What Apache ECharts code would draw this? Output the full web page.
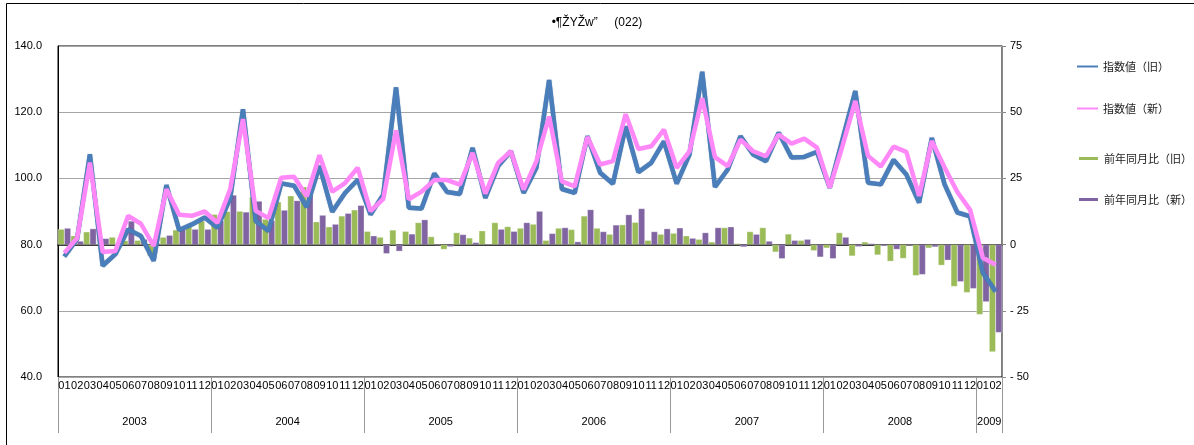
<!DOCTYPE html>
<html>
<head>
<meta charset="utf-8">
<title>指数値と前年同月比</title>
<script src="https://cdn.jsdelivr.net/npm/echarts@6/dist/echarts.min.js"></script>
<style>
  html, body { margin: 0; padding: 0; background: #fff; }
  #chart { width: 1194px; height: 445px; }
</style>
</head>
<body>
<div id="chart"></div>
<script>
// 軸ラベル
const monthNames = ['01', '02', '03', '04', '05', '06', '07', '08', '09', '10', '11', '12']
const years = ['2003', '2004', '2005', '2006', '2007', '2008', '2009']
const monthsPerYear = [12, 12, 12, 12, 12, 12, 2]

// 指数値（左軸）
const indexOld = [
  76.4, 81.7, 107.3, 73.6, 77.1, 84.6, 82.6, 75.1, 98.0, 84.4, 86.1, 88.2,
  85.1, 94.0, 120.9, 87.1, 84.1, 98.5, 97.8, 91.3, 103.8, 89.9, 95.6, 99.6,
  89.1, 95.1, 127.5, 91.1, 90.9, 101.5, 95.9, 95.3, 109.2, 94.1, 103.7, 108.2,
  95.6, 103.2, 129.7, 96.8, 95.6, 112.7, 101.7, 98.4, 115.7, 101.9, 104.7, 111.2,
  98.4, 107.2, 132.2, 97.4, 102.7, 112.7, 107.2, 105.2, 113.8, 106.3, 106.5, 108.0,
  97.2, 111.8, 126.4, 98.7, 98.2, 105.6, 101.2, 92.7, 112.2, 98.2, 89.7, 88.5,
  71.5, 65.8
]
const indexNew = [
  77.5, 82.0, 104.8, 77.8, 78.1, 88.7, 86.3, 79.6, 96.7, 89.0, 88.7, 90.0,
  86.6, 96.8, 117.9, 90.2, 88.0, 100.2, 100.5, 94.6, 107.0, 96.0, 98.6, 103.2,
  90.1, 93.8, 114.5, 93.7, 96.0, 99.5, 99.5, 98.1, 107.7, 95.4, 104.7, 108.2,
  96.6, 105.2, 118.7, 99.1, 97.6, 112.5, 104.2, 105.2, 119.4, 108.9, 109.7, 114.7,
  103.2, 108.2, 124.2, 106.4, 103.7, 111.7, 108.2, 106.7, 113.2, 110.5, 112.0, 109.3,
  97.2, 109.8, 123.4, 106.8, 103.6, 109.6, 108.0, 94.7, 111.3, 103.3, 95.9, 90.5,
  76.0, 73.9
]

// 前年同月比（右軸）
const yoyOld = [
  5.8, 3.3, 4.8, 0.3, 2.8, 1.5, 1.6, -4.3, 2.8, 5.5, 6.8, 8.9,
  11.4, 12.5, 12.6, 17.9, 9.6, 16.1, 18.4, 21.8, 8.6, 6.7, 10.8, 13.1,
  5.0, 2.8, 5.5, 5.0, 8.3, 3.0, -1.8, 4.5, 2.5, 5.2, 8.3, 6.8,
  6.2, 7.7, 1.6, 6.2, 5.7, 10.8, 6.2, 3.9, 7.5, 8.4, 1.6, 3.9,
  4.3, 3.3, 2.0, 1.0, 6.4, 0.4, 4.9, 6.4, -2.8, 4.0, 1.6, -2.3,
  -1.3, 4.5, -4.3, 1.0, -3.9, -6.3, -5.2, -11.7, -1.3, -7.8, -15.8, -18.1,
  -26.4, -40.5
]
const yoyNew = [
  6.2, 1.3, 6.0, 2.3, 0.3, 8.9, 2.0, 0.5, 3.5, 5.8, 5.8, 5.8,
  9.0, 18.7, 12.3, 16.4, 9.0, 13.0, 16.6, 18.6, 11.1, 7.7, 11.8, 14.8,
  3.3, -3.4, -2.5, 4.0, 9.4, -0.1, -0.8, 3.8, 0.8, 0.1, 5.8, 5.0,
  8.3, 12.6, 4.2, 6.4, 1.1, 13.2, 4.9, 7.4, 11.3, 13.6, 4.9, 6.0,
  6.3, 2.4, 4.5, 6.4, 6.7, -0.9, 3.9, 1.3, -5.3, 1.6, 2.0, -4.7,
  -5.3, 2.8, -0.8, 0.4, -0.5, -1.8, -0.3, -11.3, -0.9, -5.9, -14.0, -16.6,
  -21.6, -33.2
]

// カテゴリ（年/月）と年区切り
const categories = years.flatMap((y, k) => monthNames.slice(0, monthsPerYear[k]).map(m => y + '/' + m))
const yearEdges = [0]
monthsPerYear.forEach(n => yearEdges.push(yearEdges[yearEdges.length - 1] + n))
const yearMids = years.map((y, k) => (yearEdges[k] + yearEdges[k + 1]) / 2)

const numFont = 'Liberation Sans, Arial, sans-serif'
const jpFont = 'Noto Sans CJK JP, sans-serif'

const chart = echarts.init(document.getElementById('chart'))

const option = {
  animation: false,
  backgroundColor: '#fff',
  title: {
    text: '•¶ŽYŽw”     (022)',
    left: 'center',
    top: 12,
    textStyle: { fontFamily: numFont, fontSize: 12, fontWeight: 'normal', color: '#000' },
  },
  graphic: [
    {
      type: 'rect',
      shape: { x: 6.5, y: 3.5, width: 1300, height: 500 },
      style: { fill: 'none', stroke: '#000', lineWidth: 1 },
      silent: true,
    },
  ],
  legend: [
    {
      data: ['指数値（旧）', '指数値（新）'],
      orient: 'vertical',
      left: 1077,
      top: 61,
      padding: 0,
      itemGap: 31,
      itemWidth: 21,
      itemHeight: 2,
      icon: 'rect',
      textStyle: { fontFamily: jpFont, fontSize: 11, color: '#222' },
    },
    {
      data: ['前年同月比（旧）', '前年同月比（新）'],
      orient: 'vertical',
      left: 1077,
      top: 153,
      padding: 0,
      itemGap: 30,
      itemWidth: 21,
      itemHeight: 5,
      icon: 'rect',
      textStyle: { fontFamily: jpFont, fontSize: 11, color: '#222' },
    },
  ],
  grid: {
    left: 58,
    right: 192,
    top: 46,
    bottom: 68,
    show: true,
    borderColor: '#000',
    borderWidth: 1,
  },
  xAxis: [
    {
      type: 'category',
      data: categories,
      position: 'bottom',
      axisLine: { lineStyle: { color: '#000', width: 1.5 } },
      axisTick: { interval: 0, length: 18, lineStyle: { color: '#999' } },
      axisLabel: {
        interval: 0,
        margin: 3,
        hideOverlap: false,
        formatter: v => v.slice(5),
        fontFamily: numFont,
        fontSize: 11,
        color: '#000',
      },
    },
    {
      type: 'value',
      min: 0,
      max: yearEdges[yearEdges.length - 1],
      position: 'bottom',
      axisLine: { show: false },
      splitLine: { show: false },
      axisTick: { show: true, customValues: yearEdges, length: 56, lineStyle: { color: '#999' } },
      axisLabel: {
        customValues: yearMids,
        margin: 39,
        formatter: v => years[yearMids.indexOf(v)],
        fontFamily: numFont,
        fontSize: 11,
        color: '#000',
      },
    },
  ],
  yAxis: [
    {
      type: 'value',
      min: 40,
      max: 140,
      interval: 20,
      axisLine: { show: true, lineStyle: { color: '#000' } },
      axisTick: { show: false },
      splitLine: { lineStyle: { color: '#a6a6a6' } },
      axisLabel: {
        margin: 16,
        formatter: v => v.toFixed(1),
        fontFamily: numFont,
        fontSize: 11,
        color: '#000',
      },
    },
    {
      type: 'value',
      min: -50,
      max: 75,
      interval: 25,
      position: 'right',
      axisLine: { show: true, lineStyle: { color: '#888' } },
      axisTick: { show: true, length: 4, lineStyle: { color: '#888' } },
      splitLine: { show: false },
      axisLabel: {
        margin: 8,
        formatter: v => (v < 0 ? '- ' + Math.abs(v) : String(v)),
        fontFamily: numFont,
        fontSize: 11,
        color: '#000',
      },
    },
  ],
  series: [
    {
      name: '前年同月比（旧）',
      type: 'bar',
      xAxisIndex: 0,
      yAxisIndex: 1,
      data: yoyOld,
      barGap: '0%',
      barCategoryGap: '0%',
      itemStyle: { color: '#9bbb59', borderColor: '#fff', borderWidth: 0.3 },
    },
    {
      name: '前年同月比（新）',
      type: 'bar',
      xAxisIndex: 0,
      yAxisIndex: 1,
      data: yoyNew,
      barGap: '0%',
      barCategoryGap: '0%',
      itemStyle: { color: '#8064a2', borderColor: '#fff', borderWidth: 0.3 },
    },
    {
      name: '指数値（旧）',
      type: 'line',
      xAxisIndex: 0,
      yAxisIndex: 0,
      data: indexOld,
      symbol: 'none',
      itemStyle: { color: '#4a7ebb' },
      lineStyle: { color: '#4a7ebb', width: 4.5, shadowColor: 'rgba(30,60,110,0.5)', shadowBlur: 1 },
    },
    {
      name: '指数値（新）',
      type: 'line',
      xAxisIndex: 0,
      yAxisIndex: 0,
      data: indexNew,
      symbol: 'none',
      itemStyle: { color: '#ff88f8' },
      lineStyle: { color: '#ff88f8', width: 4.5 },
    },
  ],
}

chart.setOption(option)

window.addEventListener('resize', () => {
  chart.resize()
})
</script>
</body>
</html>
